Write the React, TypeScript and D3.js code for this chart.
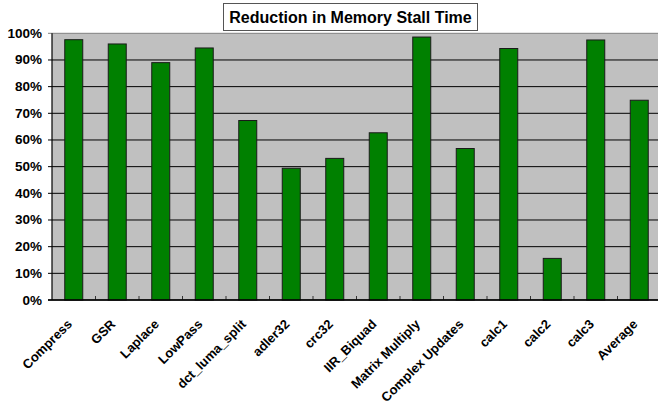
import React from "react";
import * as d3 from "d3";

const categories = [
  "Compress", "GSR", "Laplace", "LowPass", "dct_luma_split", "adler32", "crc32",
  "IIR_Biquad", "Matrix Multiply", "Complex Updates", "calc1", "calc2", "calc3", "Average",
];
const values = [0.976, 0.96, 0.89, 0.945, 0.673, 0.494, 0.531, 0.627, 0.986, 0.568, 0.943, 0.156, 0.975, 0.749];
const yTicks = [0, 0.1, 0.2, 0.3, 0.4, 0.5, 0.6, 0.7, 0.8, 0.9, 1.0];
const title = "Reduction in Memory Stall Time";

const W = 658, H = 407;
const left = 52, right = 661, top = 33.3, bottom = 300;
const font = "Arial, 'Liberation Sans', sans-serif";

export default function App() {
  const x = d3.scaleBand<string>().domain(categories).range([left, right]).paddingInner(0).paddingOuter(0);
  const y = d3.scaleLinear().domain([0, 1]).range([bottom, top]);
  const bw = 18;
  const fmt = d3.format(".0%");
  return (
    <svg width={W} height={H} style={{ position: "absolute", left: 0, top: 0, background: "#fff" }}>
      <rect x={left} y={top} width={right - left} height={bottom - top} fill="#C0C0C0" />
      {yTicks.map((t) => (
        <line key={t} x1={left - 4} x2={right} y1={y(t)} y2={y(t)} stroke={t === 1 ? "#808080" : "#000"} strokeWidth={1} />
      ))}
      {categories.slice(1).map((c) => (
        <line key={c} x1={x(c)!} x2={x(c)!} y1={bottom} y2={bottom - 4} stroke="#333" strokeWidth={1} />
      ))}
      {categories.map((c, i) => (
        <rect
          key={c}
          x={x(c)! + x.bandwidth() / 2 - bw / 2}
          y={y(values[i])}
          width={bw}
          height={bottom - y(values[i])}
          fill="#008000"
          stroke="#1a1a1a"
          strokeWidth={1}
        />
      ))}
      <line x1={left} x2={left} y1={top} y2={bottom} stroke="#000" strokeWidth={1.2} />
      <line x1={left - 4} x2={right} y1={bottom} y2={bottom} stroke="#000" strokeWidth={1.5} />
      {yTicks.map((t) => (
        <text key={t} x={42} y={y(t) + 4.5} textAnchor="end" fontFamily={font} fontWeight="bold" fontSize={13.5} fill="#000">
          {fmt(t)}
        </text>
      ))}
      {categories.map((c) => {
        const cx = x(c)! + x.bandwidth() / 2 - 1;
        const cy = 325;
        return (
          <text
            key={c}
            transform={`translate(${cx},${cy}) rotate(-45)`}
            textAnchor="end"
            fontFamily={font}
            fontWeight="bold"
            fontSize={13}
            fill="#000"
          >
            {c}
          </text>
        );
      })}
      <rect x={223.5} y={3.5} width={254} height={27} fill="#fff" stroke="#555" strokeWidth={1} />
      <text x={350.5} y={23} textAnchor="middle" fontFamily={font} fontWeight="bold" fontSize={16} fill="#000">
        {title}
      </text>
    </svg>
  );
}
